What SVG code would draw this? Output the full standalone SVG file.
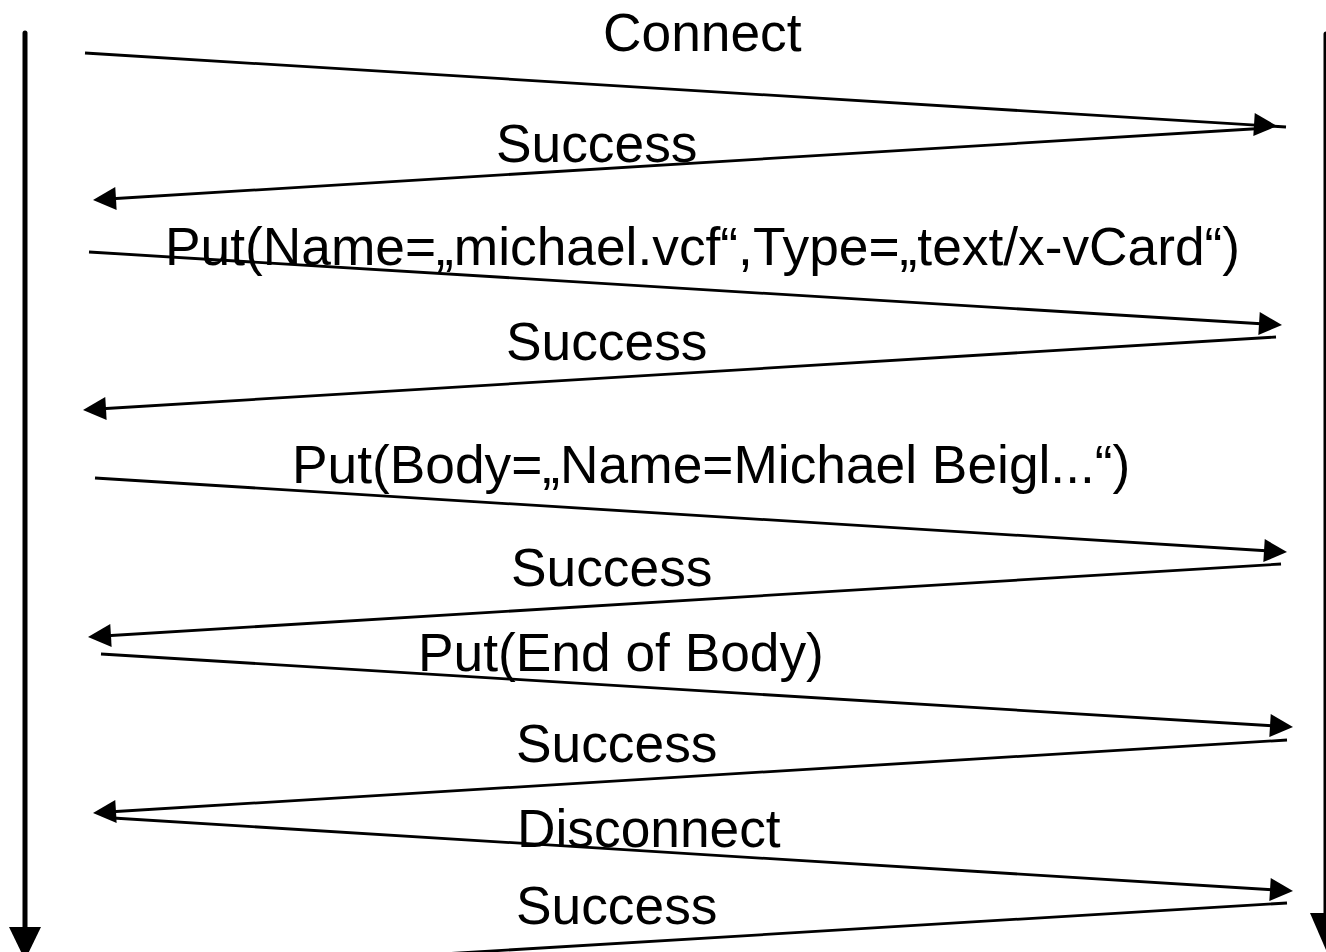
<svg xmlns="http://www.w3.org/2000/svg" width="1326" height="952" viewBox="0 0 1326 952">
  <style>
    .msg { stroke: #000; stroke-width: 2.8; fill: none; stroke-linecap: butt; }
    .life { stroke: #000; stroke-width: 5; fill: none; stroke-linecap: round; }
    .lbl { font-family: "Liberation Sans", Arial, sans-serif; font-size: 53.3px; fill: #000; }
    .head { fill: #000; }
  </style>
  <defs>
    <!-- arrowhead pointing along +x, tip at origin -->
    <polygon id="ah" points="0,0 -23,-11.5 -23,11.5"/>
  </defs>
  <rect width="1326" height="952" fill="#fff"/>

  <!-- lifelines -->
  <g id="client">
    <line class="life" x1="25" y1="33" x2="25" y2="930"/>
    <polygon class="head" points="9,927 41,927 25,960"/>
  </g>
  <g id="server">
    <line class="life" x1="1326" y1="34" x2="1326" y2="916"/>
    <polygon class="head" points="1310,913 1342,913 1326,950"/>
  </g>

  <!-- message connectors -->
  <g id="connectors">
    <line class="msg" x1="85" y1="53" x2="1286" y2="127"/>
    <use href="#ah" class="head" transform="translate(1277,126) rotate(3.5)"/>

    <line class="msg" x1="1268" y1="128" x2="108" y2="199"/>
    <use href="#ah" class="head" transform="translate(93,200) rotate(176.5)"/>

    <line class="msg" x1="89" y1="252" x2="1265" y2="324"/>
    <use href="#ah" class="head" transform="translate(1282,325) rotate(3.5)"/>

    <line class="msg" x1="1276" y1="337" x2="98" y2="409"/>
    <use href="#ah" class="head" transform="translate(83,410) rotate(176.5)"/>

    <line class="msg" x1="95" y1="478" x2="1270" y2="551"/>
    <use href="#ah" class="head" transform="translate(1287,552) rotate(3.5)"/>

    <line class="msg" x1="1281" y1="564" x2="103" y2="636"/>
    <use href="#ah" class="head" transform="translate(88,637) rotate(176.5)"/>

    <line class="msg" x1="101" y1="654" x2="1276" y2="726"/>
    <use href="#ah" class="head" transform="translate(1293,727) rotate(3.5)"/>

    <line class="msg" x1="1287" y1="740" x2="108" y2="812"/>
    <use href="#ah" class="head" transform="translate(93,813) rotate(176.5)"/>

    <line class="msg" x1="113" y1="818" x2="1276" y2="890"/>
    <use href="#ah" class="head" transform="translate(1293,891) rotate(3.5)"/>

    <line class="msg" x1="1287" y1="903" x2="93" y2="975"/>
  </g>

  <!-- message labels -->
  <g id="labels">
    <text class="lbl" x="603" y="51">Connect</text>
    <text class="lbl" x="496" y="162">Success</text>
    <text class="lbl" x="165" y="265">Put(Name=„michael.vcf“,Type=„text/x-vCard“)</text>
    <text class="lbl" x="506" y="360">Success</text>
    <text class="lbl" x="292" y="483">Put(Body=„Name=Michael Beigl...“)</text>
    <text class="lbl" x="511" y="586">Success</text>
    <text class="lbl" x="418" y="671">Put(End of Body)</text>
    <text class="lbl" x="516" y="762">Success</text>
    <text class="lbl" x="517" y="847">Disconnect</text>
    <text class="lbl" x="516" y="924">Success</text>
  </g>
</svg>
